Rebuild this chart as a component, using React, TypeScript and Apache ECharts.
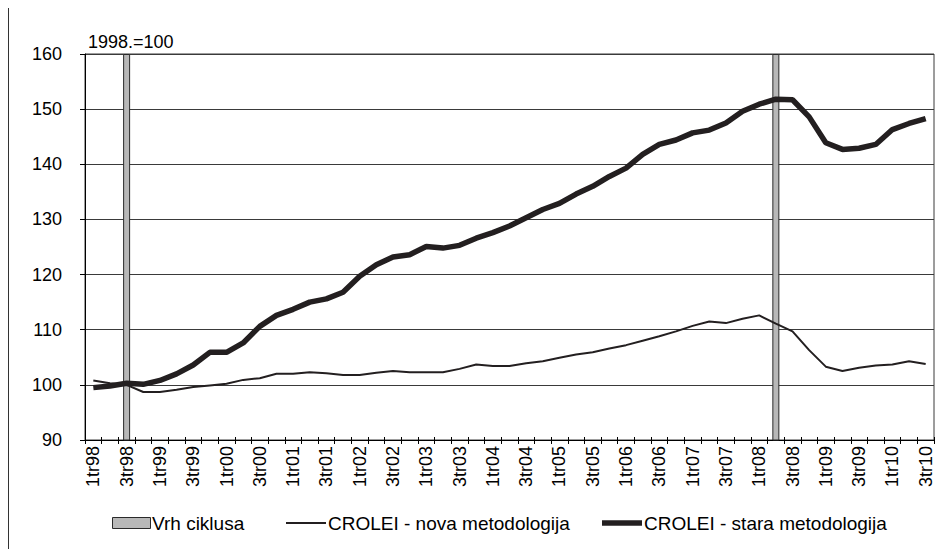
import React, { useEffect, useRef } from "react";
import * as echarts from "echarts";

const quarters = [
  "1tr98", "2tr98", "3tr98", "4tr98",
  "1tr99", "2tr99", "3tr99", "4tr99",
  "1tr00", "2tr00", "3tr00", "4tr00",
  "1tr01", "2tr01", "3tr01", "4tr01",
  "1tr02", "2tr02", "3tr02", "4tr02",
  "1tr03", "2tr03", "3tr03", "4tr03",
  "1tr04", "2tr04", "3tr04", "4tr04",
  "1tr05", "2tr05", "3tr05", "4tr05",
  "1tr06", "2tr06", "3tr06", "4tr06",
  "1tr07", "2tr07", "3tr07", "4tr07",
  "1tr08", "2tr08", "3tr08", "4tr08",
  "1tr09", "2tr09", "3tr09", "4tr09",
  "1tr10", "2tr10", "3tr10",
];

const novaMetodologija = [
  100.8, 100.3, 100.0, 98.7, 98.7, 99.1, 99.6, 99.9, 100.2, 100.9, 101.2, 102.0,
  102.0, 102.3, 102.1, 101.8, 101.8, 102.2, 102.5, 102.3, 102.3, 102.3, 102.9, 103.7,
  103.4, 103.4, 103.9, 104.3, 104.9, 105.5, 105.9, 106.6, 107.2, 108.0, 108.8, 109.7,
  110.7, 111.5, 111.2, 112.0, 112.6, 111.1, 109.7, 106.3, 103.3, 102.5, 103.1, 103.5,
  103.7, 104.3, 103.8,
];

const staraMetodologija = [
  99.5, 99.8, 100.3, 100.1, 100.8, 102.0, 103.6, 105.9, 105.9, 107.6, 110.6, 112.6,
  113.7, 115.0, 115.6, 116.8, 119.7, 121.8, 123.2, 123.6, 125.1, 124.8, 125.3, 126.6,
  127.6, 128.8, 130.3, 131.8, 132.9, 134.6, 136.0, 137.8, 139.3, 141.8, 143.6, 144.4,
  145.7, 146.2, 147.5, 149.6, 150.9, 151.8, 151.7, 148.6, 143.9, 142.7, 142.9, 143.6,
  146.3, 147.4, 148.3,
];

// cycle peaks (Vrh ciklusa)
const peakQuarters = ["3tr98", "2tr08"];
const peakHeight = 160;

const yMin = 90;
const yMax = 160;
const yStep = 10;

const FONT = "Liberation Sans, Arial, sans-serif";

export default function App() {
  const ref = useRef<HTMLDivElement>(null);

  useEffect(() => {
    if (!ref.current) return;
    const chart = echarts.init(ref.current, undefined, { renderer: "svg" });

    const peakData = quarters.map((q) => (peakQuarters.includes(q) ? peakHeight : null));

    const legendY = 523;
    const option: any = {
      animation: false,
      backgroundColor: "#ffffff",
      textStyle: { fontFamily: FONT },
      grid: {
        left: 85,
        right: 11,
        top: 54,
        bottom: 117,
        show: true,
        borderColor: "#3a3a3a",
        borderWidth: 1,
        backgroundColor: "transparent",
      },
      xAxis: [
        {
          type: "category",
          data: quarters,
          boundaryGap: true,
          axisLine: { show: true, lineStyle: { color: "#000", width: 1 } },
          axisTick: { show: true, interval: 0, length: 4, lineStyle: { color: "#000" } },
          axisLabel: {
            interval: 1,
            rotate: 90,
            color: "#000",
            fontSize: 18,
            fontFamily: FONT,
            margin: 6,
          },
          splitLine: { show: false },
        },
        {
          type: "category",
          data: quarters,
          boundaryGap: true,
          position: "bottom",
          axisLine: { show: false },
          axisTick: { show: true, inside: true, interval: 0, length: 3, lineStyle: { color: "#000" } },
          axisLabel: { show: false },
          splitLine: { show: false },
        },
      ],
      yAxis: {
        type: "value",
        min: yMin,
        max: yMax,
        interval: yStep,
        axisLine: { show: true, lineStyle: { color: "#000", width: 1 } },
        axisTick: { show: true, length: 5, lineStyle: { color: "#000" } },
        axisLabel: { color: "#000", fontSize: 18, fontFamily: FONT, margin: 23 },
        splitLine: { show: true, lineStyle: { color: "#3a3a3a", width: 1 } },
      },
      series: [
        {
          name: "Vrh ciklusa",
          type: "bar",
          data: peakData,
          barWidth: 7,
          itemStyle: { color: "#b8b8b8", borderColor: "#2a2a2a", borderWidth: 1 },
          z: 3,
        },
        {
          name: "CROLEI - nova metodologija",
          type: "line",
          data: novaMetodologija,
          symbol: "none",
          lineStyle: { color: "#231f20", width: 2 },
          z: 4,
        },
        {
          name: "CROLEI - stara metodologija",
          type: "line",
          data: staraMetodologija,
          symbol: "none",
          lineStyle: { color: "#231f20", width: 5.5 },
          z: 5,
        },
      ],
      graphic: [
        {
          type: "line",
          shape: { x1: 8.5, y1: 6.5, x2: 945, y2: 6.5 },
          style: { stroke: "#333", lineWidth: 1 },
        },
        {
          type: "line",
          shape: { x1: 8.5, y1: 6.5, x2: 8.5, y2: 557 },
          style: { stroke: "#333", lineWidth: 1 },
        },
        {
          type: "text",
          x: 88,
          y: 42,
          style: {
            text: "1998.=100",
            fill: "#000",
            font: `18px ${FONT}`,
            textVerticalAlign: "middle",
          },
        },
        {
          type: "rect",
          shape: { x: 112.5, y: legendY - 5.5, width: 38, height: 11 },
          style: { fill: "#b8b8b8", stroke: "#2a2a2a", lineWidth: 1 },
        },
        {
          type: "text",
          x: 152,
          y: legendY,
          style: { text: "Vrh ciklusa", fill: "#000", font: `19px ${FONT}`, textVerticalAlign: "middle" },
        },
        {
          type: "line",
          shape: { x1: 286, y1: legendY, x2: 326, y2: legendY },
          style: { stroke: "#231f20", lineWidth: 2 },
        },
        {
          type: "text",
          x: 328,
          y: legendY,
          style: {
            text: "CROLEI - nova metodologija",
            fill: "#000",
            font: `19px ${FONT}`,
            textVerticalAlign: "middle",
          },
        },
        {
          type: "line",
          shape: { x1: 602, y1: legendY, x2: 642, y2: legendY },
          style: { stroke: "#231f20", lineWidth: 5.5 },
        },
        {
          type: "text",
          x: 644,
          y: legendY,
          style: {
            text: "CROLEI - stara metodologija",
            fill: "#000",
            font: `19px ${FONT}`,
            textVerticalAlign: "middle",
          },
        },
      ],
    };

    chart.setOption(option);
    return () => chart.dispose();
  }, []);

  return <div ref={ref} style={{ width: 945, height: 557, margin: -8 }} />;
}
